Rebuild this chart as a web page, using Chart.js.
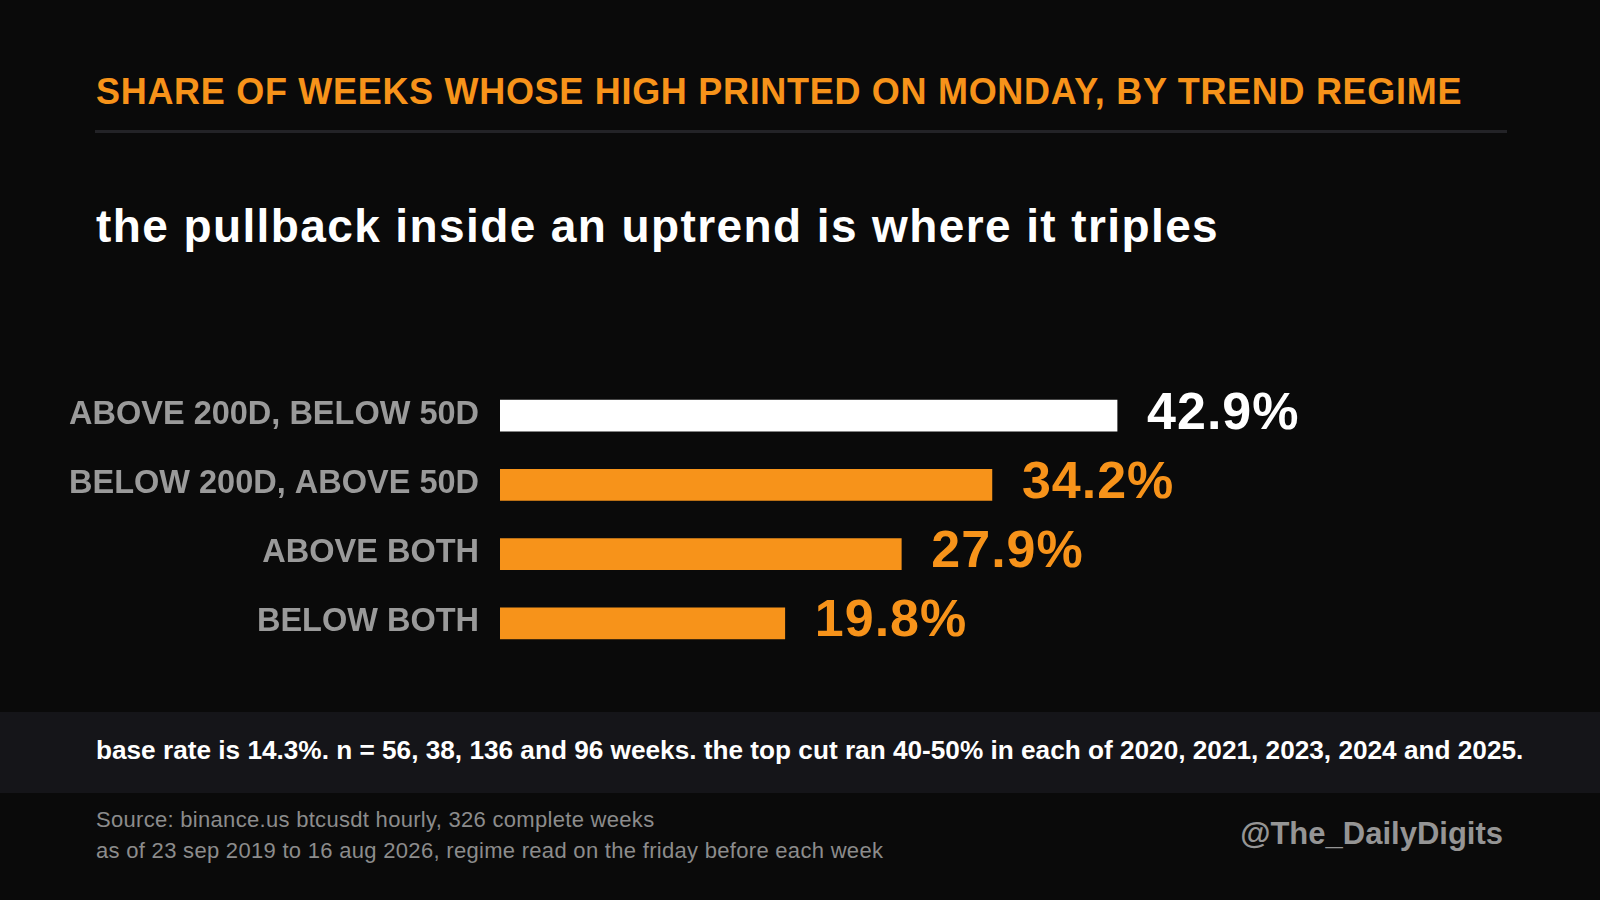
<!DOCTYPE html>
<html>
<head>
<meta charset="utf-8">
<script src="https://cdn.jsdelivr.net/npm/chart.js@4.4.1/dist/chart.umd.min.js"></script>
<style>
  html, body { margin:0; padding:0; background:#0a0a0a; }
  body { width:1600px; height:900px; position:relative; overflow:hidden; font-family:"Liberation Sans", Arial, sans-serif; }
  .t { position:absolute; line-height:1; white-space:nowrap; }
  #title { left:96px; top:73.5px; font-size:36px; letter-spacing:0.7px; font-weight:bold; color:#F7931A; }
  #rule { position:absolute; left:95px; top:130px; width:1412px; height:3px; background:#232327; }
  #sub { left:96px; top:203px; font-size:46px; letter-spacing:1.4px; font-weight:bold; color:#ffffff; }
  #band { position:absolute; left:0; top:712px; width:1600px; height:81px; background:#151519; }
  #note { left:96px; top:737px; font-size:26.2px; font-weight:bold; color:#ffffff; }
  #src1 { left:96px; top:809px; font-size:22px; letter-spacing:0.3px; color:#8c8c8c; }
  #src2 { left:96px; top:840px; font-size:22px; letter-spacing:0.3px; color:#8c8c8c; }
  #handle { right:97px; top:818px; font-size:31px; font-weight:bold; color:#959595; }
  #wrap { position:absolute; left:0; top:360px; width:1600px; height:320px; }
</style>
</head>
<body>
<div class="t" id="title">SHARE OF WEEKS WHOSE HIGH PRINTED ON MONDAY, BY TREND REGIME</div>
<div id="rule"></div>
<div class="t" id="sub">the pullback inside an uptrend is where it triples</div>
<div id="wrap"><canvas id="c"></canvas></div>
<div id="band"></div>
<div class="t" id="note">base rate is 14.3%. n = 56, 38, 136 and 96 weeks. the top cut ran 40-50% in each of 2020, 2021, 2023, 2024 and 2025.</div>
<div class="t" id="src1">Source: binance.us btcusdt hourly, 326 complete weeks</div>
<div class="t" id="src2">as of 23 sep 2019 to 16 aug 2026, regime read on the friday before each week</div>
<div class="t" id="handle">@The_DailyDigits</div>
<script>
const categories = ["ABOVE 200D, BELOW 50D", "BELOW 200D, ABOVE 50D", "ABOVE BOTH", "BELOW BOTH"];
const shareValues = [42.9, 34.2, 27.9, 19.8];
const valueLabels = ["42.9%", "34.2%", "27.9%", "19.8%"];
const barColors = ["#ffffff", "#F7931A", "#F7931A", "#F7931A"];

const valueLabelPlugin = {
  id: 'valueLabels',
  afterDatasetsDraw(chart) {
    const ctx = chart.ctx;
    const meta = chart.getDatasetMeta(0);
    ctx.save();
    ctx.font = 'bold 52px "Liberation Sans", Arial, sans-serif';
    try { ctx.letterSpacing = '1px'; } catch (e) {}
    ctx.textAlign = 'left';
    ctx.textBaseline = 'alphabetic';
    meta.data.forEach((bar, i) => {
      ctx.fillStyle = barColors[i];
      ctx.fillText(valueLabels[i], bar.x + 30, bar.y + 13);
    });
    ctx.restore();
  }
};

new Chart(document.getElementById('c'), {
  type: 'bar',
  data: {
    labels: categories,
    datasets: [{
      data: shareValues,
      backgroundColor: barColors,
      borderWidth: 0,
      barThickness: 31
    }]
  },
  options: {
    indexAxis: 'y',
    responsive: true,
    maintainAspectRatio: false,
    animation: false,
    layout: { padding: { top: 21, bottom: 22, left: 0, right: 237 } },
    plugins: { legend: { display: false }, tooltip: { enabled: false } },
    scales: {
      x: { min: 0, max: 60, display: false },
      y: {
        grid: { display: false, drawTicks: false },
        border: { display: false },
        afterFit(scale) {
          scale.width = 500;
          scale.paddingTop = 0;
          scale.paddingBottom = 0;
        },
        ticks: {
          padding: 21,
          labelOffset: -1,
          color: '#9a9a9a',
          font: { family: '"Liberation Sans", Arial, sans-serif', size: 32.5, weight: 'bold' }
        }
      }
    }
  },
  plugins: [valueLabelPlugin]
});
</script>
</body>
</html>
